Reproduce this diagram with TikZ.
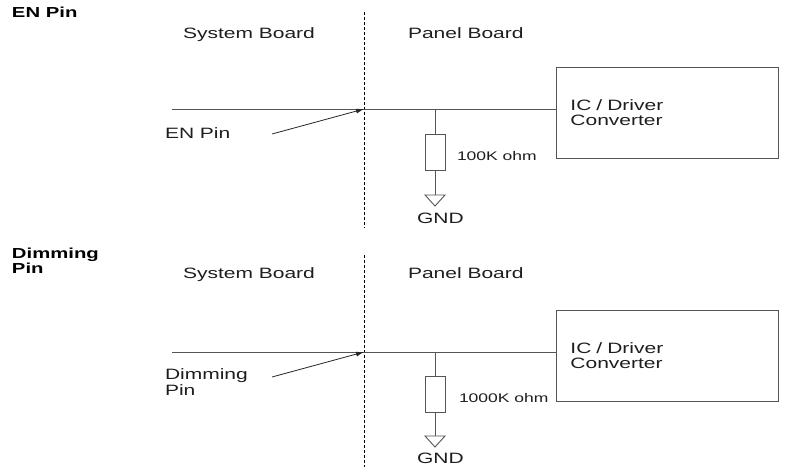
\documentclass[tikz,border=0pt]{standalone}
\usepackage{fontspec}
\setmainfont{Liberation Sans}[FakeStretch=1.4]
\usetikzlibrary{arrows.meta}

\begin{document}
\begin{tikzpicture}[x=1pt,y=-1pt,
  wire/.style={draw=drawColor,line width=0.9pt},
  boardline/.style={draw=black,line width=0.9pt,dash pattern=on 3pt off 2pt},
  pointer/.style={draw=black!85,line width=0.8pt,-{Latex[length=8pt,width=5pt]}},
  lbl/.style={text=textColor,anchor=base west,inner sep=0pt,outer sep=0pt,align=left,font=\fontsize{15}{16}\selectfont},
  val/.style={lbl,font=\fontsize{12.5}{14}\selectfont},
  ttl/.style={lbl,text=black,font=\fontsize{14.5}{14.5}\selectfont\bfseries},
  chip/.style={draw=drawColor,line width=0.9pt,anchor=north west,text=textColor,align=left,
    text width=194pt,inner xsep=14pt,minimum height=91pt,font=\fontsize{15}{15}\selectfont},
  res/.style={draw=drawColor,line width=0.9pt,minimum width=20pt,minimum height=36pt,inner sep=0pt}]
\definecolor{drawColor}{RGB}{85,85,85}
\definecolor{textColor}{RGB}{30,30,30}
\path[use as bounding box,fill=white] (0,0) rectangle (785,475);

\node[ttl] (enTtl) at (12,17) {EN Pin};
\node[lbl] (sysA) at (183,38) {System Board};
\node[lbl] (panA) at (408,38) {Panel Board};
\coordinate (bdA1) at (364,12);
\coordinate (bdA2) at (364,228);
\path[boardline] (bdA1) -- (bdA2);

\node[chip] (icA) at (556,67) {IC / Driver\\Converter};
\coordinate (enL) at (172,109);
\coordinate (enJ) at (364,109);
\coordinate (tapA) at (435,109);
\path[wire] (enL) -- (enL -| icA.west);

\node[lbl] (enLbl) at (165,138) {EN Pin};
\coordinate (enT) at (272,134);
\path[pointer] (enT) -- (enJ);

\node[res] (rA) at (435,152) {};
\node[val] (rAval) at (457,160) {100K ohm};
\coordinate (gA) at (435,195);
\path[wire] (tapA) -- (rA.north);
\path[wire] (rA.south) -- (gA);
\path[wire] (gA) ++(-10,0) -- ++(20,0) -- ++(-10,11) -- cycle;
\node[lbl] (gndA) at (417,223) {GND};

\node[ttl] (dimTtl) at (12,273) {Dimming\\Pin};
\node[lbl] (sysB) at (183,278) {System Board};
\node[lbl] (panB) at (408,278) {Panel Board};
\coordinate (bdB1) at (364,255);
\coordinate (bdB2) at (364,467);
\path[boardline] (bdB1) -- (bdB2);

\node[chip] (icB) at (556,310) {IC / Driver\\Converter};
\coordinate (dimL) at (172,352);
\coordinate (dimJ) at (364,352);
\coordinate (tapB) at (435,352);
\path[wire] (dimL) -- (dimL -| icB.west);

\node[lbl] (dimLbl) at (165,395) {Dimming\\Pin};
\coordinate (dimT) at (272,377);
\path[pointer] (dimT) -- (dimJ);

\node[res] (rB) at (435,394) {};
\node[val] (rBval) at (459,402) {1000K ohm};
\coordinate (gB) at (435,436);
\path[wire] (tapB) -- (rB.north);
\path[wire] (rB.south) -- (gB);
\path[wire] (gB) ++(-10,0) -- ++(20,0) -- ++(-10,11) -- cycle;
\node[lbl] (gndB) at (417,463) {GND};
\end{tikzpicture}
\end{document}
